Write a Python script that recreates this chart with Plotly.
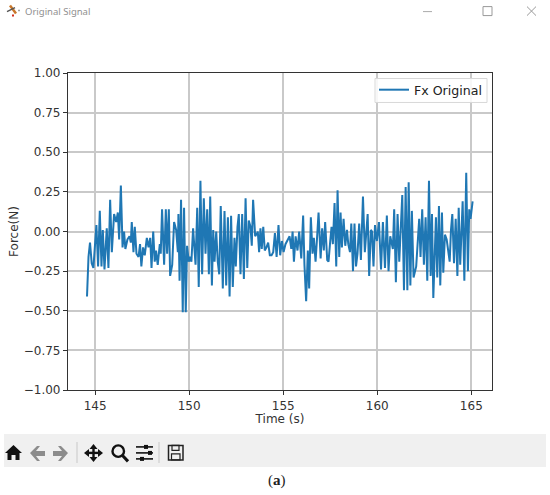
import plotly.graph_objects as go

time_s = [
144.57,144.65,144.73,144.82,144.91,145.07,145.16,145.25,145.34,145.41,145.50,145.62,145.71,145.80,145.89,146.01,146.12,146.21,146.28,146.37,
146.46,146.54,146.61,146.72,146.83,146.90,146.95,147.04,147.11,147.20,147.31,147.39,147.46,147.55,147.64,147.75,147.84,147.93,148.00,148.09,
148.17,148.24,148.33,148.44,148.49,148.56,148.67,148.76,148.83,148.92,148.99,149.10,149.20,149.31,149.40,149.43,149.49,149.57,149.66,149.73,
149.82,149.89,149.98,150.05,150.12,150.21,150.34,150.43,150.51,150.60,150.69,150.78,150.87,150.96,151.05,151.12,
151.21,151.28,151.35,151.44,151.52,151.60,151.68,151.79,151.88,151.97,152.06,152.15,152.23,152.32,152.41,152.48,152.57,152.64,152.73,152.82,
152.91,153.00,153.09,153.17,153.26,153.33,153.40,153.51,153.62,153.65,153.72,153.79,153.86,153.94,154.02,154.11,154.20,154.29,154.38,154.47,
154.56,154.65,154.75,154.84,154.93,155.02,155.12,155.23,155.34,155.43,155.50,155.57,155.66,155.76,155.85,155.96,156.06,156.13,156.22,156.31,
156.38,156.47,156.56,156.63,156.72,156.81,156.88,156.99,157.07,157.16,157.23,157.34,157.41,157.50,157.57,157.64,157.73,157.82,157.89,157.98,158.05,
158.12,158.21,158.30,158.39,158.46,158.55,158.62,158.71,158.79,158.87,158.95,159.04,159.13,159.24,159.34,159.49,159.57,159.66,159.72,159.80,
159.88,159.98,160.09,160.20,160.30,160.41,160.51,160.60,160.69,160.78,160.83,160.90,160.99,161.08,161.17,161.33,161.42,161.51,161.60,161.67,
161.76,161.84,161.93,162.07,162.16,162.23,162.30,162.39,162.48,162.57,162.66,162.75,162.84,162.91,162.98,163.12,163.19,163.28,163.35,163.44,
163.51,163.60,163.69,163.78,163.85,163.92,163.99,164.08,164.17,164.26,164.33,164.41,164.54,164.63,164.73,164.82,164.89,164.96,165.07]

fx_original = [
-0.41,-0.16,-0.07,-0.20,-0.23,0.04,-0.22,0.13,-0.22,0.01,-0.24,0.02,-0.23,0.20,-0.13,0.11,0.06,0.12,-0.05,0.29,
-0.10,0.00,-0.11,-0.05,-0.03,-0.07,0.06,-0.13,0.03,-0.14,-0.16,-0.08,-0.22,-0.10,-0.15,-0.04,-0.10,-0.04,-0.23,0.00,
-0.19,-0.12,-0.21,-0.08,-0.14,0.14,-0.21,0.14,-0.14,0.14,-0.28,-0.21,0.06,0.01,-0.13,0.11,-0.31,0.20,-0.51,0.15,
-0.51,-0.09,-0.19,-0.16,-0.19,0.02,-0.21,0.15,-0.35,0.32,-0.27,0.21,-0.14,0.14,-0.27,0.22,
-0.34,0.01,-0.19,0.00,-0.19,-0.27,0.16,-0.36,0.13,-0.34,0.09,-0.41,0.10,-0.35,-0.04,-0.22,0.03,0.11,-0.27,0.11,
-0.30,0.21,-0.23,0.07,0.03,-0.09,0.20,-0.03,-0.01,0.00,-0.13,0.02,-0.11,0.03,-0.12,-0.10,-0.07,-0.15,-0.15,-0.13,
-0.01,-0.16,0.04,-0.15,-0.06,-0.13,-0.08,-0.05,-0.03,-0.11,0.00,-0.19,-0.03,-0.12,0.00,-0.17,0.10,-0.21,-0.44,-0.12,
-0.36,0.09,-0.14,-0.04,-0.19,-0.02,0.12,-0.17,0.02,-0.12,0.06,-0.18,-0.19,-0.06,0.03,-0.08,0.18,-0.22,0.26,-0.16,0.12,
-0.10,0.08,-0.09,0.01,-0.08,-0.13,0.05,-0.25,0.05,-0.22,-0.14,0.05,-0.18,0.22,-0.13,0.11,-0.28,0.01,0.00,-0.22,
0.04,-0.06,0.06,-0.24,0.06,-0.23,0.10,-0.25,-0.03,-0.07,-0.11,0.14,-0.32,0.11,-0.19,0.23,-0.37,0.28,-0.37,0.31,
-0.34,0.13,-0.29,-0.22,-0.04,0.08,-0.16,0.14,-0.21,0.09,-0.31,0.32,-0.28,0.11,-0.42,0.09,-0.29,0.16,-0.34,0.12,
-0.26,-0.02,-0.05,-0.13,-0.19,0.01,0.11,-0.20,0.08,-0.28,0.15,-0.21,0.19,-0.31,0.37,-0.25,0.14,0.08,0.19]

y_ticks = [-1.00,-0.75,-0.50,-0.25,0.00,0.25,0.50,0.75,1.00]
x_ticks = [145,150,155,160,165]
series_name = "Fx Original"
window_title = "Original Signal"
caption_open, caption_letter, caption_close = "(", "a", ")"

W, H = 550, 495
L, R, T, B = 68, 492, 72.5, 390
FONT = "DejaVu Sans"

def px(x): return (x - L) / (R - L)
def py(y): return (B - y) / (B - T)

shapes = []
def rect(x0, y0, x1, y1, fill=None, line=None, lw=1):
    shapes.append(dict(type="rect", xref="paper", yref="paper", x0=px(x0), x1=px(x1), y0=py(y0), y1=py(y1),
                       fillcolor=fill or "rgba(0,0,0,0)", line=dict(color=line or "rgba(0,0,0,0)", width=lw if line else 0)))
def seg(x0, y0, x1, y1, color="#111", lw=2):
    shapes.append(dict(type="line", xref="paper", yref="paper", x0=px(x0), x1=px(x1), y0=py(y0), y1=py(y1),
                       line=dict(color=color, width=lw)))
def circ(x0, y0, x1, y1, line="#111", lw=2.4):
    shapes.append(dict(type="circle", xref="paper", yref="paper", x0=px(x0), x1=px(x1), y0=py(y0), y1=py(y1),
                       line=dict(color=line, width=lw)))
def poly(pts, fill="#111"):
    d = "M" + " L".join(f"{px(a):.5f},{py(b):.5f}" for a, b in pts) + " Z"
    shapes.append(dict(type="path", xref="paper", yref="paper", path=d, fillcolor=fill, line=dict(width=0)))

# legend frame
rect(375, 78, 487, 102, fill="rgba(255,255,255,0.85)", line="#d8d8d8", lw=1)
# toolbar band and separators
rect(4, 434, 546, 467, fill="#f0f0f0")
seg(77, 442, 77, 463, "#cfcfcf", 1.2)
seg(159, 442, 159, 463, "#cfcfcf", 1.2)
# home
poly([(5, 453), (13.5, 445), (22, 453), (19.5, 453), (19.5, 460), (15.5, 460), (15.5, 455), (11.5, 455), (11.5, 460), (7.5, 460), (7.5, 453)])
# back / forward
poly([(30, 453), (37, 446), (40, 446), (36, 451), (45, 451), (45, 456), (36, 456), (40, 461), (37, 461)], "#8c8c8c")
poly([(68, 453), (61, 446), (58, 446), (62, 451), (53, 451), (53, 456), (62, 456), (58, 461), (61, 461)], "#8c8c8c")
# move
seg(87, 453, 100, 453, lw=2.4); seg(93.5, 447, 93.5, 459, lw=2.4)
poly([(84, 453), (89, 449), (89, 457)]); poly([(103, 453), (98, 449), (98, 457)])
poly([(93.5, 444), (89.5, 449), (97.5, 449)]); poly([(93.5, 462), (89.5, 457), (97.5, 457)])
# magnifier
circ(112.5, 445.5, 124, 457); seg(122.5, 455.5, 128, 461.5, lw=3)
# sliders
for yy, xm in ((447, 146), (453, 150), (459, 142)):
    seg(136, yy, 153, yy, lw=1.6)
    rect(xm - 2, yy - 2, xm + 2, yy + 2, fill="#111")
# save icon
rect(168.5, 445.5, 183, 460, line="#222", lw=1.5)
rect(172, 445.5, 179, 450.5, line="#222", lw=1.2)
rect(171.5, 454, 180, 460, line="#222", lw=1.2)
# window controls
seg(423, 11, 432, 11, "#aaaaaa", 1)
rect(483, 6, 492, 15, line="#999999", lw=1)
seg(527, 6, 536, 15, "#999999", 1)
seg(527, 15, 536, 6, "#999999", 1)
# window icon
seg(10, 5, 16, 13, "#c9772a", 2.5)
seg(7, 11, 15, 7, "#555555", 1.5)
seg(13, 14, 13, 16, "#d03020", 2)
seg(18, 10, 20, 10, "#a0a0a0", 1.5)

def note(text, x, y, size, color="#222", family=FONT, xanchor="center"):
    return dict(text=text, xref="paper", yref="paper", x=px(x), y=py(y), showarrow=False, xanchor=xanchor,
                yanchor="middle", font=dict(family=family, size=size, color=color))

annotations = [
    note(window_title, 23, 11, 9.5, "#8f8f8f", "Noto Sans", "left"),
    note(f"{caption_open}<b>{caption_letter}</b>{caption_close}", 277, 481, 15, "#222", "Liberation Serif"),
]

fig = go.Figure(go.Scatter(x=time_s, y=fx_original, mode="lines", name=series_name,
                           line=dict(color="#1f77b4", width=2), showlegend=True))
axis = dict(showgrid=True, gridcolor="#c9c9c9", gridwidth=2, showline=True, linecolor="#333333", linewidth=1.2,
            mirror=True, ticks="outside", ticklen=4, tickcolor="#333333", zeroline=False,
            tickfont=dict(family=FONT, size=12, color="#333333"))
fig.update_layout(
    width=W, height=H, autosize=False, paper_bgcolor="white", plot_bgcolor="white",
    margin=dict(l=L, r=W - R, t=T, b=H - B, pad=0),
    font=dict(family=FONT, size=12, color="#333333"),
    xaxis=dict(axis, range=[143.56, 166.1], tickvals=x_ticks, title=dict(text="Time (s)", font=dict(size=12), standoff=2)),
    yaxis=dict(axis, range=[-1, 1], tickvals=y_ticks, tickformat=".2f", title=dict(text="Force(N)", font=dict(size=12), standoff=2)),
    legend=dict(x=px(487), y=py(74.5), xanchor="right", yanchor="top", bgcolor="rgba(0,0,0,0)",
                borderwidth=0, font=dict(family=FONT, size=12.6, color="#222")),
    shapes=shapes, annotations=annotations,
)
fig.write_html("out.html", config={"displayModeBar": False}, post_script="document.body.style.margin='0';")
